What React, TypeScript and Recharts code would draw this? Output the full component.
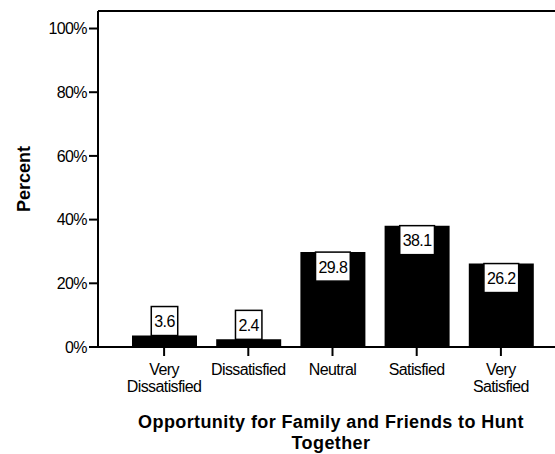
import React from 'react';
import { BarChart, Bar, XAxis, YAxis, LabelList, ReferenceLine, Label } from 'recharts';

const categories = ['Very Dissatisfied', 'Dissatisfied', 'Neutral', 'Satisfied', 'Very Satisfied'];
const percents = [3.6, 2.4, 29.8, 38.1, 26.2];
const yTicks = [0, 20, 40, 60, 80, 100];

const data = categories.map((name, i) => ({ name, value: percents[i] }));

const FONT = 'Arial, "Liberation Sans", Helvetica, sans-serif';
const TOP = 105.5;
const TICK_FONT = { fontFamily: FONT, fontSize: 16, letterSpacing: -0.6 };

// rough widths for the 16px label text, enough to size the boxes
const textWidth = (s: string) =>
    s.split('').reduce((w, c) => w + (c === '.' ? 4.45 : 8.9) - 0.6, 0);

const ValueBox = (props: any) => {
    const { x, y, width, height, value } = props;
    const label = Number(value).toFixed(1);
    const w = textWidth(label) + 6;
    const h = 29;
    const cx = x + width / 2;
    // short bars get the box sitting on top, tall ones get it inside from the top
    const top = height < h ? y - h : y;
    return (
        <g>
            <rect x={cx - w / 2} y={top} width={w} height={h} fill="#fff" stroke="#000" strokeWidth={1.5} />
            <text x={cx} y={top + h / 2 + 6} textAnchor="middle" {...TICK_FONT} fill="#000">
                {label}
            </text>
        </g>
    );
};

const CategoryTick = (props: any) => {
    const { x, y, payload } = props;
    const words = String(payload.value).split(' ');
    return (
        <g>
            {words.map((wd, i) => (
                <text key={i} x={x} y={y + 17 + i * 16.5} textAnchor="middle" {...TICK_FONT} fill="#000">
                    {wd}
                </text>
            ))}
        </g>
    );
};

const XTitle = () => (
    <g fontFamily={FONT} fontSize={18} fontWeight="bold" fill="#000" letterSpacing={0.4}>
        <text x={331} y={428} textAnchor="middle">
            Opportunity for Family and Friends to Hunt
        </text>
        <text x={331} y={449} textAnchor="middle">
            Together
        </text>
    </g>
);

const YTitle = () => (
    <text
        x={30}
        y={179}
        transform="rotate(-90 30 179)"
        textAnchor="middle"
        fontFamily={FONT}
        fontSize={18}
        fontWeight="bold"
        fill="#000"
    >
        Percent
    </text>
);

export default function App() {
    return (
        <div style={{ position: 'absolute', left: 0, top: 0, background: '#fff' }}>
            <BarChart width={555} height={454} data={data} margin={{ top: 11, right: 0, bottom: 0, left: 0 }}>
                <XAxis
                    dataKey="name"
                    height={107}
                    padding={{ left: 24, right: 12 }}
                    axisLine={{ stroke: '#000', strokeWidth: 2 }}
                    tickLine={{ stroke: '#000', strokeWidth: 2 }}
                    tickSize={9}
                    tick={<CategoryTick />}
                    interval={0}
                >
                    <Label content={<XTitle />} />
                </XAxis>
                <YAxis
                    width={98}
                    domain={[0, TOP]}
                    ticks={yTicks}
                    allowDataOverflow
                    tickFormatter={(v: number) => `${v}%`}
                    axisLine={{ stroke: '#000', strokeWidth: 2 }}
                    tickLine={{ stroke: '#000', strokeWidth: 2 }}
                    tickSize={9}
                    tickMargin={2}
                    tick={{ fill: '#000', ...TICK_FONT }}
                >
                    <Label content={<YTitle />} />
                </YAxis>
                <ReferenceLine y={TOP} stroke="#000" strokeWidth={2} ifOverflow="visible" />
                <Bar dataKey="value" fill="#000" barSize={65} isAnimationActive={false}>
                    <LabelList dataKey="value" content={<ValueBox />} />
                </Bar>
            </BarChart>
        </div>
    );
}
